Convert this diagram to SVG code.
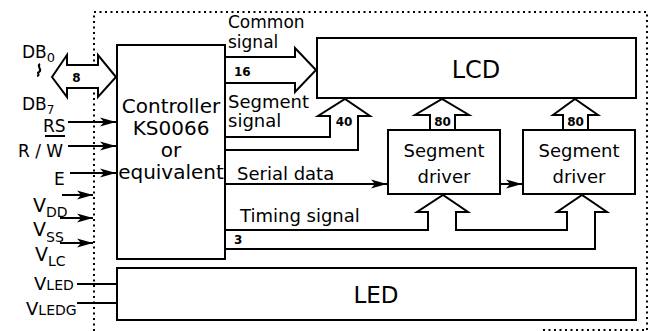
<svg xmlns="http://www.w3.org/2000/svg" width="650" height="331" viewBox="0 0 650 331">
<defs>
<marker id="ah" markerUnits="userSpaceOnUse" markerWidth="17" markerHeight="10" refX="16" refY="5" orient="auto">
<path d="M0,0.5 L16,5 L0,9.5 L4,5 Z" fill="#000"/>
</marker>
<style>
.t{font-family:"DejaVu Sans","Open Sans",sans-serif;fill:#000}
.box{fill:#fff;stroke:#000;stroke-width:2}
.bus{fill:#fff;stroke:#000;stroke-width:2;stroke-linejoin:miter}
.ln{fill:none;stroke:#000;stroke-width:2}
.arr{fill:none;stroke:#000;stroke-width:2;marker-end:url(#ah)}
.dot{fill:none;stroke:#000;stroke-width:2;stroke-dasharray:2 3.5}
.num{font-family:"DejaVu Sans","Open Sans",sans-serif;font-weight:bold;font-size:12px}
</style>
</defs>
<rect width="650" height="331" fill="#fff"/>

<g id="frame">
<path class="dot" d="M94,331 V12 H647 V331"/>
<path class="dot" d="M543,330 H647"/>
</g>

<g id="connectors">
<polyline class="bus" points="225,57 295,57 295,48 316,70 295,92 295,83 225,83"/>
<polyline class="bus" points="225,137 330,137 330,116 318,116 345,99 370,116 358,116 358,150 225,150"/>
<polygon class="bus" points="430,130 430,115 415,115 442,99 469,115 455,115 455,130"/>
<polygon class="bus" points="563,130 563,115 553,115 575,99 598,115 588,115 588,130"/>
<polyline class="bus" points="225,230 428,230 428,212 417,212 443,195 468,212 456,212 456,230 567,230 567,212 557,212 582,195 607,212 595,212 595,249 225,249"/>
<polygon class="bus" points="52,77 67,55 67,65 98,65 98,55 116,77 98,97 98,88 67,88 67,97"/>
<line class="arr" x1="225" y1="184" x2="387" y2="184"/>
<line class="arr" x1="500" y1="184" x2="522" y2="184"/>
<line class="arr" x1="68" y1="122" x2="116" y2="122"/>
<line class="arr" x1="68" y1="146" x2="116" y2="146"/>
<line class="arr" x1="70" y1="173" x2="116" y2="173"/>
<line class="arr" x1="62" y1="195" x2="93" y2="195"/>
<line class="arr" x1="60" y1="218" x2="93" y2="218"/>
<line class="arr" x1="60" y1="243" x2="93" y2="243"/>
<line class="ln" x1="77" y1="284" x2="117" y2="284"/>
<line class="ln" x1="77" y1="303" x2="117" y2="303"/>
<text class="num" x="76.5" y="82" text-anchor="middle" font-size="14">8</text>
<text class="num" x="234" y="76">16</text>
<text class="num" x="344" y="126" text-anchor="middle">40</text>
<text class="num" x="442.5" y="126" text-anchor="middle">80</text>
<text class="num" x="575.5" y="126" text-anchor="middle">80</text>
<text class="num" x="234" y="244">3</text>
<text class="t" x="228" y="28" font-size="17">Common</text>
<text class="t" x="228" y="48" font-size="17">signal</text>
<text class="t" x="228" y="108" font-size="18">Segment</text>
<text class="t" x="228" y="127" font-size="18">signal</text>
<text class="t" x="237" y="180" font-size="18">Serial data</text>
<text class="t" x="240" y="222" font-size="18">Timing signal</text>
</g>

<g id="controller">
<rect class="box" x="117" y="45" width="108" height="214"/>
<text class="t" x="171" y="113" font-size="20" text-anchor="middle">Controller</text>
<text class="t" x="171" y="135" font-size="20" text-anchor="middle">KS0066</text>
<text class="t" x="171" y="157" font-size="20" text-anchor="middle">or</text>
<text class="t" x="171" y="179" font-size="20" text-anchor="middle">equivalent</text>
</g>

<g id="lcd">
<rect class="box" x="317" y="38" width="319" height="60"/>
<text class="t" x="476" y="78" font-size="24" text-anchor="middle">LCD</text>
</g>

<g id="driver1">
<rect class="box" x="388" y="130" width="112" height="64"/>
<text class="t" x="444" y="157" font-size="18" text-anchor="middle">Segment</text>
<text class="t" x="444" y="183" font-size="18" text-anchor="middle">driver</text>
</g>

<g id="driver2">
<rect class="box" x="523" y="130" width="112" height="64"/>
<text class="t" x="579" y="157" font-size="18" text-anchor="middle">Segment</text>
<text class="t" x="579" y="183" font-size="18" text-anchor="middle">driver</text>
</g>

<g id="led">
<rect class="box" x="117" y="268" width="519" height="52"/>
<text class="t" x="376" y="303" font-size="23" text-anchor="middle">LED</text>
</g>

<g id="pins">
<text class="t" x="22" y="58" font-size="17">DB<tspan font-size="13" dy="4">0</tspan></text>
<path class="ln" stroke-width="1.5" d="M40,64 C36,66 43,70 39,72 C36,73 41,75 37,76"/>
<text class="t" x="22" y="110" font-size="17">DB<tspan font-size="12" dy="4">7</tspan></text>
<text class="t" x="43" y="132" font-size="17">RS</text>
<text class="t" x="18" y="157" font-size="17">R / W</text>
<line class="ln" x1="45" y1="136" x2="65" y2="136"/>
<text class="t" x="54" y="185" font-size="17">E</text>
<text class="t" x="33" y="212" font-size="19">V<tspan font-size="14" dy="5">DD</tspan></text>
<text class="t" x="33" y="236" font-size="19">V<tspan font-size="14" dy="6">SS</tspan></text>
<text class="t" x="35" y="261" font-size="19">V<tspan font-size="14" dy="5">LC</tspan></text>
<text class="t" x="34" y="290" font-size="18">V<tspan font-size="14">LED</tspan></text>
<text class="t" x="26" y="315" font-size="18">V<tspan font-size="14">LEDG</tspan></text>
</g>
</svg>
